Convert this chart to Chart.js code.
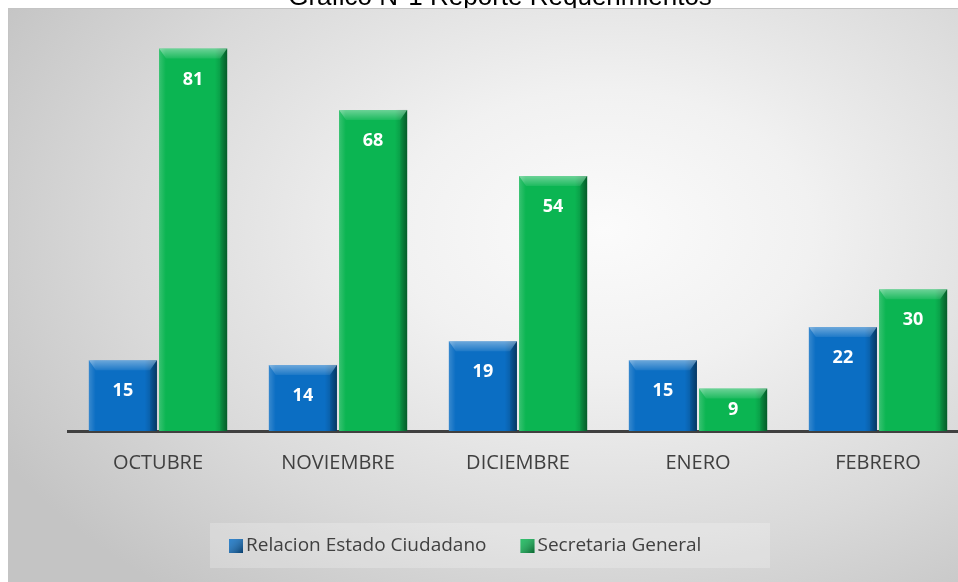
<!DOCTYPE html>
<html>
<head>
<meta charset="utf-8">
<script src="https://cdn.jsdelivr.net/npm/chart.js@4.4.1/dist/chart.umd.min.js"></script>
<style>
  html, body { margin: 0; padding: 0; background: #fff; overflow: hidden; width: 958px; height: 582px; }
  #panel {
    position: absolute; left: 8px; top: 8px; width: 960px; height: 580px;
    border: 1px solid #c4c4c4;
    background: radial-gradient(ellipse 72% 80% at 62% 38%, #fbfbfb 0%, #f1f1f1 30%, #d9d9d9 70%, #c4c4c4 100%);
  }
  #wrap { position: absolute; left: 0; top: 0; width: 970px; height: 582px; }
</style>
</head>
<body>
<div id="panel"></div>
<div id="wrap"><canvas id="chart" width="970" height="582"></canvas></div>
<script>
"use strict";

const chartTitle = 'Gráfico N°1 Reporte Requerimientos';
const months = ['OCTUBRE', 'NOVIEMBRE', 'DICIEMBRE', 'ENERO', 'FEBRERO'];
const relacionEstado = [15, 14, 19, 15, 22];
const secretariaGeneral = [81, 68, 54, 9, 30];
const seriesNames = ['Relacion Estado Ciudadano', 'Secretaria General'];
const seriesColors = ['#0b6ec3', '#0bb552'];

// bevel look + value labels on every bar
const bevelBars = {
  id: 'bevelBars',
  afterDatasetsDraw(chart) {
    const ctx = chart.ctx;
    chart.data.datasets.forEach((ds, i) => {
      chart.getDatasetMeta(i).data.forEach((bar, j) => {
        const { x, y, base, width } = bar.getProps(['x', 'y', 'base', 'width'], true);
        const l = x - width / 2, r = x + width / 2, t = y, b = base;
        const h = b - t;
        const e = Math.min(10, h / 4);
        ctx.save();

        const g = ctx.createLinearGradient(l, 0, r, 0);
        g.addColorStop(0, 'rgba(255,255,255,0.18)');
        g.addColorStop(0.1, 'rgba(255,255,255,0.0)');
        g.addColorStop(0.82, 'rgba(0,0,0,0.0)');
        g.addColorStop(1, 'rgba(0,0,0,0.28)');
        ctx.fillStyle = g;
        ctx.fillRect(l, t, width, h);

        // top bevel
        const tg = ctx.createLinearGradient(0, t, 0, t + e);
        tg.addColorStop(0, 'rgba(255,255,255,0.40)');
        tg.addColorStop(1, 'rgba(255,255,255,0.08)');
        ctx.beginPath();
        ctx.moveTo(l, t); ctx.lineTo(r, t); ctx.lineTo(r - 7, t + e); ctx.lineTo(l + 7, t + e);
        ctx.closePath();
        ctx.fillStyle = tg;
        ctx.fill();

        // right bevel
        const rg = ctx.createLinearGradient(r - 7, 0, r, 0);
        rg.addColorStop(0, 'rgba(0,0,0,0.08)');
        rg.addColorStop(1, 'rgba(0,0,0,0.30)');
        ctx.beginPath();
        ctx.moveTo(r, t); ctx.lineTo(r, b); ctx.lineTo(r - 7, b); ctx.lineTo(r - 7, t + e);
        ctx.closePath();
        ctx.fillStyle = rg;
        ctx.fill();

        ctx.fillStyle = '#fff';
        ctx.font = 'bold 18px "Open Sans"';
        ctx.textAlign = 'center';
        ctx.textBaseline = 'middle';
        ctx.fillText(String(ds.data[j]), x, t + Math.min(31, h / 2));
        ctx.restore();
      });
    });
  }
};

// title cut off by the panel edge, and the boxed legend
const extras = {
  id: 'extras',
  afterDraw(chart) {
    const ctx = chart.ctx;
    ctx.save();
    ctx.beginPath();
    ctx.rect(0, 0, chart.width, 8);
    ctx.clip();
    ctx.fillStyle = '#000';
    ctx.font = '26px "Liberation Sans"';
    ctx.textAlign = 'center';
    ctx.textBaseline = 'alphabetic';
    ctx.fillText(chartTitle, 500, 5);
    ctx.restore();

    ctx.save();
    ctx.fillStyle = 'rgba(255,255,255,0.22)';
    ctx.fillRect(210, 523, 560, 45);
    ctx.font = '19px "Open Sans"';
    ctx.textBaseline = 'middle';
    ctx.textAlign = 'left';
    let lx = 229;
    const ly = 546;
    chart.data.datasets.forEach((ds) => {
      const sg = ctx.createLinearGradient(lx, ly - 7, lx + 14, ly + 7);
      sg.addColorStop(0, 'rgba(255,255,255,0.15)');
      sg.addColorStop(1, 'rgba(0,0,0,0.45)');
      ctx.fillStyle = ds.backgroundColor;
      ctx.fillRect(lx, ly - 7, 14, 14);
      ctx.fillStyle = sg;
      ctx.fillRect(lx, ly - 7, 14, 14);
      ctx.fillStyle = '#404040';
      ctx.fillText(ds.label, lx + 17, ly);
      lx += 17 + ctx.measureText(ds.label).width + 34;
    });
    ctx.restore();
  }
};

new Chart(document.getElementById('chart'), {
  type: 'bar',
  data: {
    labels: months,
    datasets: [
      { label: seriesNames[0], data: relacionEstado, backgroundColor: seriesColors[0] },
      { label: seriesNames[1], data: secretariaGeneral, backgroundColor: seriesColors[1] },
    ],
  },
  options: {
    responsive: false,
    animation: false,
    devicePixelRatio: 1,
    layout: { padding: { left: 68, right: 2, top: 6, bottom: 0 } },
    categoryPercentage: 0.78,
    barPercentage: 0.97,
    plugins: {
      legend: { display: false },
      tooltip: { enabled: false },
      title: { display: false },
    },
    scales: {
      x: {
        grid: { display: false, drawTicks: false },
        border: { display: true, color: '#404040', width: 3 },
        ticks: { color: '#404040', font: { family: '"Open Sans"', size: 20 }, padding: 20 },
        afterFit(scale) { scale.height = 151; },
      },
      y: {
        display: false,
        min: 0,
        max: 90,
      },
    },
  },
  plugins: [bevelBars, extras],
});
</script>
</body>
</html>
